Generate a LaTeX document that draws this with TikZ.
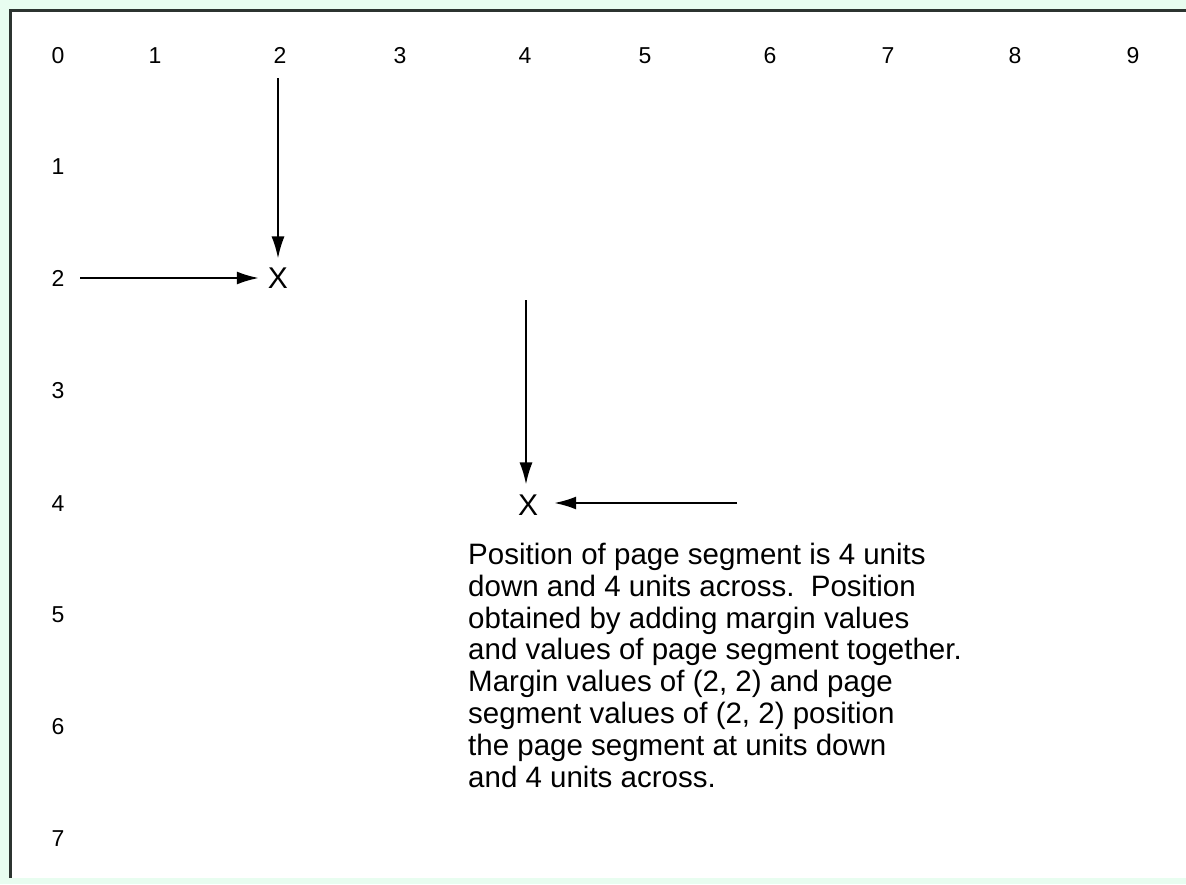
\documentclass[tikz,border=0pt]{standalone}
\usepackage{fontspec}
\setmainfont{Liberation Sans}
\usetikzlibrary{arrows.meta}
\definecolor{mint}{HTML}{E8FDF0}
\definecolor{frameline}{HTML}{2C3430}
\tikzset{
  lbl/.style={font=\fontsize{23}{26}\selectfont, anchor=base, inner sep=0pt},
  xmark/.style={font=\fontsize{30}{32}\selectfont, inner sep=0pt},
  arr/.style={line width=2pt, -{Latex[length=22pt,width=13pt]}},
  note/.style={font=\fontsize{29.5}{31.8}\selectfont, align=left, anchor=north west, inner sep=0pt}
}
\begin{document}
\begin{tikzpicture}[x=1pt,y=-1pt]
\useasboundingbox (0,0) rectangle (1186,884);
\fill[mint] (0,0) rectangle (1186,884);
\fill[white] (10,10) rectangle (1186,878);
\draw[frameline, line width=3pt] (10,878) -- (10,10) -- (1186,10);
% column labels
\node[lbl] (c0) at (58,63.5) {0};
\node[lbl] (c1) at (155,63.5) {1};
\node[lbl] (c2) at (280,63.5) {2};
\node[lbl] (c3) at (400,63.5) {3};
\node[lbl] (c4) at (525,63.5) {4};
\node[lbl] (c5) at (645,63.5) {5};
\node[lbl] (c6) at (770,63.5) {6};
\node[lbl] (c7) at (888,63.5) {7};
\node[lbl] (c8) at (1015,63.5) {8};
\node[lbl] (c9) at (1133,63.5) {9};
% row labels
\node[lbl] (r1) at (58,174.5) {1};
\node[lbl] (r2) at (58,286.5) {2};
\node[lbl] (r3) at (58,398.5) {3};
\node[lbl] (r4) at (58,511.5) {4};
\node[lbl] (r5) at (58,622.5) {5};
\node[lbl] (r6) at (58,734.5) {6};
\node[lbl] (r7) at (58,846.5) {7};
% marks
\node[xmark] (x1) at (278,278) {X};
\node[xmark] (x2) at (528,505) {X};
\coordinate (a1s) at (278,78);
\coordinate (a2s) at (80,278);
\coordinate (a3s) at (526,300);
\coordinate (a4s) at (737,503);
\draw[arr, shorten >=9pt] (a1s) -- (a1s |- x1.north);
\draw[arr, shorten >=9pt] (a2s) -- (x1.west |- a2s);
\draw[arr, shorten >=10pt] (a3s) -- (a3s |- x2.north);
\draw[arr, shorten >=16pt] (a4s) -- (x2.east |- a4s);
\node[note] (txt) at (468,543) {Position of page segment is 4 units\\
down and 4 units across.\ \ Position\\
obtained by adding margin values\\
and values of page segment together.\\
Margin values of (2, 2) and page\\
segment values of (2, 2) position\\
the page segment at units down\\
and 4 units across.};
\end{tikzpicture}
\end{document}
